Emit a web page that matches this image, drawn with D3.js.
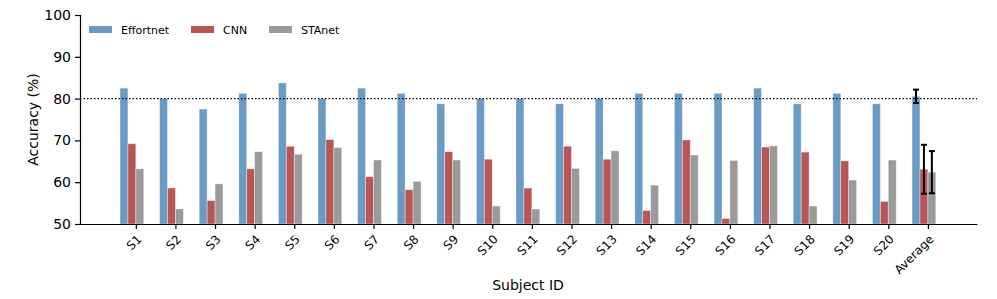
<!DOCTYPE html>
<html>
<head>
<meta charset="utf-8">
<script src="https://cdn.jsdelivr.net/npm/d3@7"></script>
<style>
  body { margin: 0; background: #fff; }
  text { font-family: "DejaVu Sans", sans-serif; fill: #000; }
</style>
</head>
<body>
<script>
const width = 997;
const height = 299;

// data
const subjects = ['S1','S2','S3','S4','S5','S6','S7','S8','S9','S10','S11','S12','S13','S14','S15','S16','S17','S18','S19','S20','Average'];
const effortnet = [82.5,80,77.5,81.25,83.75,80,82.5,81.25,78.75,80,80,78.75,80,81.25,81.25,81.25,82.5,78.75,81.25,78.75,80.55];
const cnn = [69.2,58.6,55.6,63.2,68.6,70.2,61.3,58.2,67.3,65.5,58.6,68.6,65.5,53.2,70.1,51.3,68.4,67.2,65.1,55.4,63.1];
const stanet = [63.2,53.6,59.6,67.3,66.7,68.3,65.3,60.2,65.3,54.3,53.6,63.3,67.5,59.3,66.5,65.2,68.7,54.3,60.5,65.3,62.4];
const avgErr = [1.6, 5.85, 5.05];
const seriesNames = ['Effortnet', 'CNN', 'STAnet'];
const colors = ['#6a9bc4', '#b85656', '#9a9a9a'];

const series = [effortnet, cnn, stanet];
const offsets = [-0.4, -0.2, 0];
const barW = 0.2;

const svg = d3.select('body').append('svg')
  .attr('width', width)
  .attr('height', height);

// scale
const x = d3.scaleLinear().domain([-1.41, 21.24]).range([80, 977]);
const y = d3.scaleLinear().domain([50, 100]).range([224, 15]);

// bars
series.forEach((vals, s) => {
  svg.append('g').selectAll('rect')
    .data(vals)
    .enter()
    .append('rect')
    .attr('x', (d, i) => x(i + offsets[s]))
    .attr('y', d => y(d))
    .attr('width', x(barW) - x(0))
    .attr('height', d => y(50) - y(d))
    .attr('fill', colors[s])
    .attr('stroke', 'rgba(255,255,255,0.45)')
    .attr('stroke-width', 0.8);
});

// 80% reference line
svg.append('line')
  .attr('x1', x(-1.41)).attr('x2', x(21.24))
  .attr('y1', y(80)).attr('y2', y(80))
  .attr('stroke', '#000')
  .attr('stroke-width', 1.2)
  .attr('stroke-dasharray', '1.5,2');

// error bars on the average group
const ai = subjects.length - 1;
const eb = svg.append('g').selectAll('g')
  .data(series.map((vals, s) => ({ cx: ai + offsets[s] + barW / 2, v: vals[ai], e: avgErr[s] })))
  .enter()
  .append('g')
  .attr('stroke', '#000')
  .attr('stroke-width', 2);
eb.append('line')
  .attr('x1', d => x(d.cx)).attr('x2', d => x(d.cx))
  .attr('y1', d => y(d.v - d.e)).attr('y2', d => y(d.v + d.e));
eb.append('line')
  .attr('x1', d => x(d.cx) - 3).attr('x2', d => x(d.cx) + 3)
  .attr('y1', d => y(d.v - d.e)).attr('y2', d => y(d.v - d.e));
eb.append('line')
  .attr('x1', d => x(d.cx) - 3).attr('x2', d => x(d.cx) + 3)
  .attr('y1', d => y(d.v + d.e)).attr('y2', d => y(d.v + d.e));

// axes
const yAxis = svg.append('g')
  .attr('transform', `translate(${x(-1.41)},0)`)
  .call(d3.axisLeft(y).tickValues([50,60,70,80,90,100]).tickSize(5).tickPadding(4));
yAxis.selectAll('text').style('font-size', '14px');

const xAxis = svg.append('g')
  .attr('transform', `translate(0,${y(50)})`)
  .call(d3.axisBottom(x).tickValues(d3.range(subjects.length)).tickFormat(i => subjects[i]).tickSize(5).tickSizeOuter(0));
xAxis.selectAll('text')
  .style('font-size', '12px')
  .attr('text-anchor', 'end')
  .attr('dy', '0.35em')
  .attr('transform', 'translate(3,13) rotate(-45)')
  .attr('y', 0).attr('x', 0);

svg.selectAll('.domain, .tick line').attr('stroke', '#000').attr('stroke-width', 1.2);

// axis labels
svg.append('text')
  .attr('transform', `translate(38,${(y(50) + y(100)) / 2}) rotate(-90)`)
  .attr('text-anchor', 'middle')
  .style('font-size', '14px')
  .text('Accuracy (%)');

svg.append('text')
  .attr('x', 528).attr('y', 290)
  .attr('text-anchor', 'middle')
  .style('font-size', '14px')
  .text('Subject ID');

// legend
const legendX = [89, 191, 269];
const legend = svg.append('g').selectAll('g')
  .data(seriesNames)
  .enter()
  .append('g')
  .attr('transform', (d, i) => `translate(${legendX[i]},26)`);
legend.append('rect')
  .attr('width', 23).attr('height', 7)
  .attr('fill', (d, i) => colors[i]);
legend.append('text')
  .attr('x', 32).attr('y', 7.5)
  .style('font-size', '11px')
  .text(d => d);
</script>
</body>
</html>
